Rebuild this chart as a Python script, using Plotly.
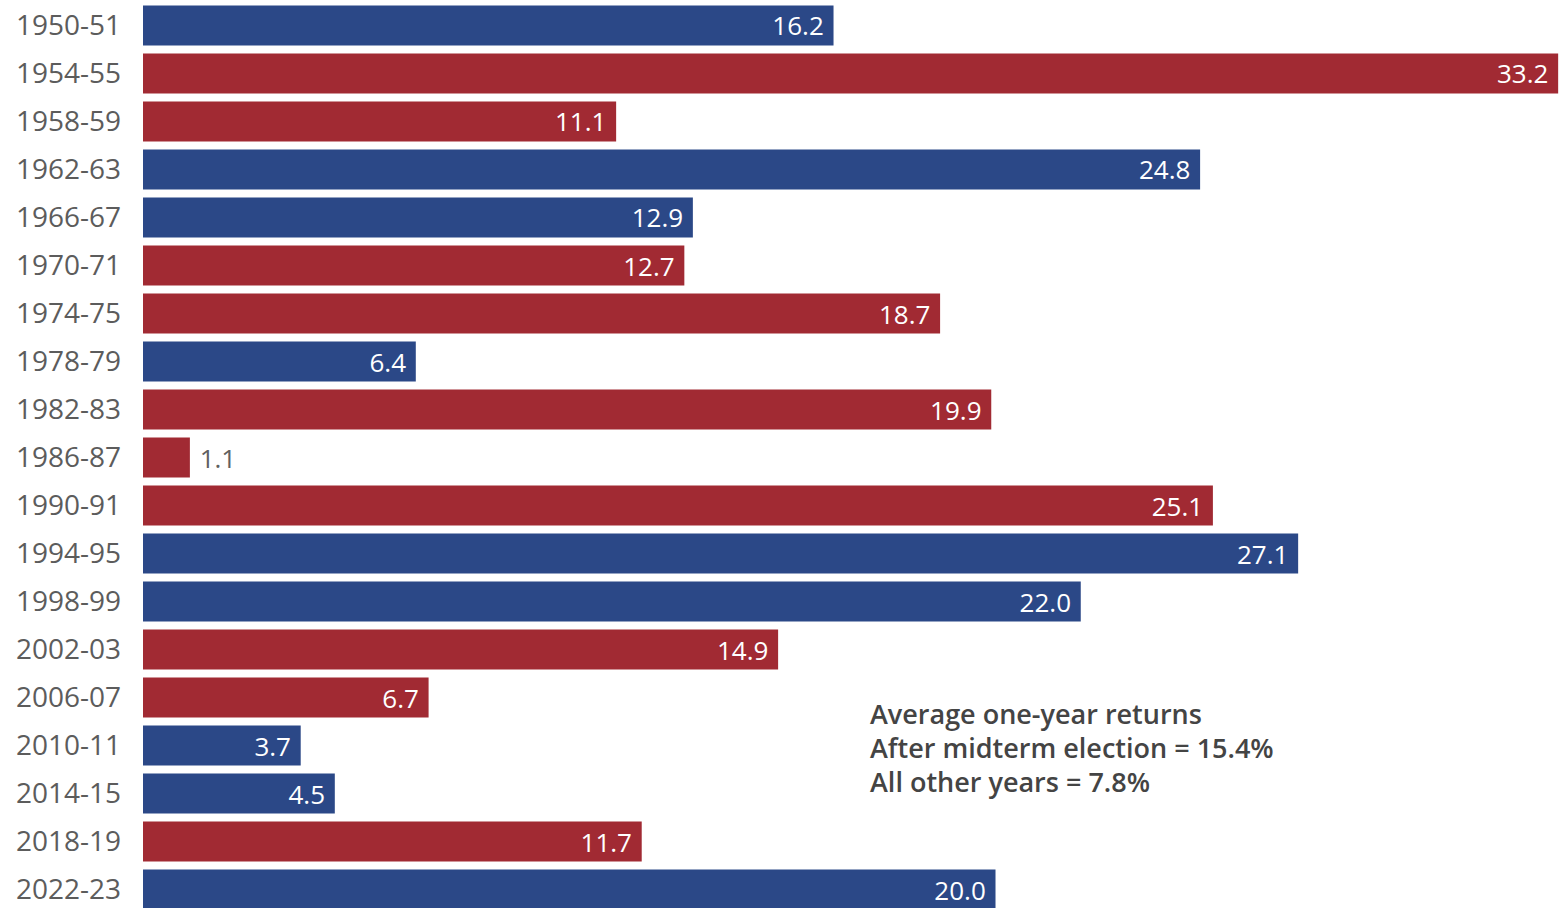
import plotly.graph_objects as go

# One-year market returns (%) following each midterm election
periods = ["1950-51", "1954-55", "1958-59", "1962-63", "1966-67", "1970-71",
           "1974-75", "1978-79", "1982-83", "1986-87", "1990-91", "1994-95",
           "1998-99", "2002-03", "2006-07", "2010-11", "2014-15", "2018-19",
           "2022-23"]
returns = [16.2, 33.2, 11.1, 24.8, 12.9, 12.7, 18.7, 6.4, 19.9, 1.1, 25.1,
           27.1, 22.0, 14.9, 6.7, 3.7, 4.5, 11.7, 20.0]
party = ["D", "R", "R", "D", "D", "R", "R", "D", "R", "R", "R", "D", "D",
         "R", "R", "D", "D", "R", "D"]

notes = ["Average one-year returns",
         "After midterm election = 15.4%",
         "All other years = 7.8%"]

BLUE = "#2b4887"
RED = "#a12a33"
party_colors = {"D": BLUE, "R": RED}
FONT = "Open Sans"

colors = [party_colors[p] for p in party]
positions = ["inside" if v > 3 else "outside" for v in returns]
text_colors = ["white" if v > 3 else "#606060" for v in returns]
labels = [f"{v:.1f}\u00a0" if v > 3 else f"\u00a0{v:.1f}" for v in returns]

fig = go.Figure(
    go.Bar(
        y=periods,
        x=returns,
        orientation="h",
        marker=dict(color=colors, line=dict(width=0)),
        width=0.83,
        text=labels,
        textposition=positions,
        insidetextanchor="end",
        textfont=dict(family=FONT, size=26, color=text_colors),
        constraintext="none",
        cliponaxis=False,
        hoverinfo="skip",
    )
)

W, H = 1562, 908
left = 143
x_max = 33.29

for i, line in enumerate(notes):
    fig.add_annotation(
        xref="x", yref="paper",
        x=17.0, y=1 - (713 + 34 * i) / H,
        xanchor="left", yanchor="middle",
        text=line, showarrow=False,
        font=dict(family=FONT, size=27, color="#444444", weight=600),
    )

fig.update_layout(
    width=W, height=H,
    margin=dict(l=left, r=0, t=0, b=0),
    paper_bgcolor="white",
    plot_bgcolor="white",
    showlegend=False,
    font=dict(family=FONT),
)
fig.update_xaxes(range=[0, x_max], visible=False, showgrid=False, zeroline=False)
fig.update_yaxes(
    type="category",
    categoryorder="array",
    categoryarray=periods,
    range=[18.385, -0.531],
    showgrid=False, zeroline=False, showline=False,
    ticks="", ticklabelstandoff=21,
    tickfont=dict(family=FONT, size=28, color="#5c5c5c"),
)

fig.write_html("out.html")
